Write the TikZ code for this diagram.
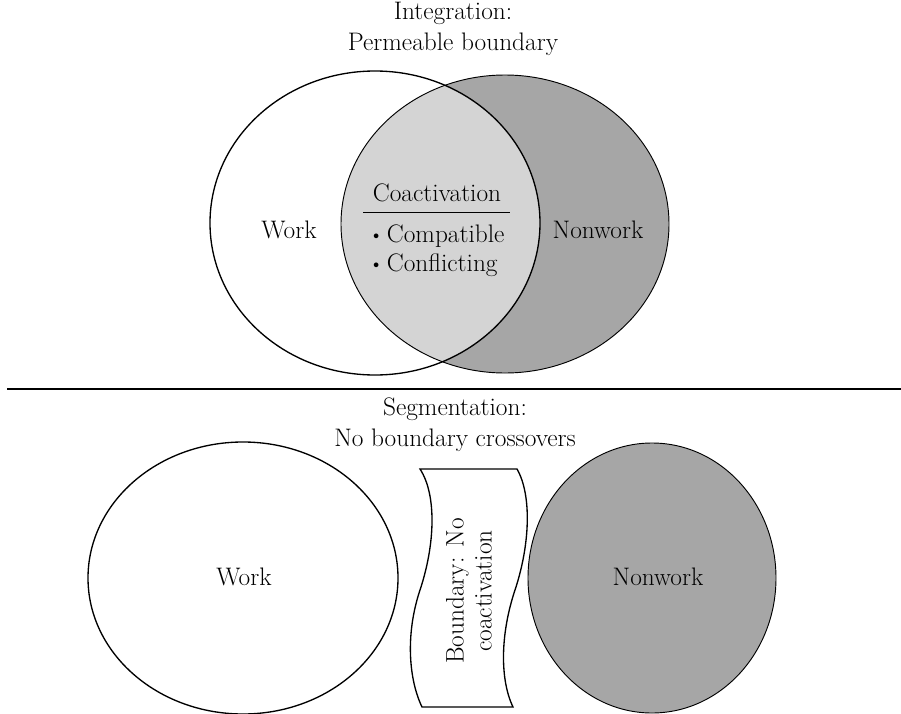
\documentclass[tikz,border=0pt]{standalone}
\usepackage{tikz}
\usetikzlibrary{positioning}
\colorlet{nonworkfill}{black!35}
\colorlet{overlapfill}{black!17}
\newcommand\itembullet{\raisebox{0.08em}{\fontsize{13}{13}\selectfont\textbullet}\,}
\begin{document}
\begin{tikzpicture}[x=0.75pt, y=-0.75pt, line width=1pt,
  every node/.style={font=\fontsize{19}{23}\selectfont, inner sep=0pt}]
\useasboundingbox (0,0) rectangle (901,714);
% integration: overlapping domains
\fill[nonworkfill] (505,224) ellipse [x radius=164, y radius=149];
\begin{scope}
  \clip (375,223) ellipse [x radius=165, y radius=152];
  \fill[overlapfill] (505,224) ellipse [x radius=164, y radius=149];
\end{scope}
\draw (375,223) ellipse [x radius=165, y radius=152];
\draw[line width=0.7pt] (505,224) ellipse [x radius=164, y radius=149];
\node (intTitle) [align=center] at (453,29) {Integration:\\Permeable boundary};
\node (work) at (289,230) {Work};
\node (nonwork) at (598,230) {Nonwork};
\node (coact) at (437,193) {Coactivation};
\node (items) [align=left, font=\fontsize{19}{22}\selectfont, below=16pt of coact] {\itembullet Compatible\\\itembullet Conflicting};
\draw[line width=0.6pt] (363,212) -- (510,212);
% divider
\coordinate (ruleL) at (7,389); \coordinate (ruleR) at (901,389);
\draw[line width=1.3pt] (ruleL) -- (ruleR);
% segmentation: separate domains
\node (segTitle) [align=center] at (455,425) {Segmentation:\\No boundary crossovers};
\draw (243,578) ellipse [x radius=155, y radius=136];
\filldraw[fill=nonworkfill, line width=0.7pt] (652,578) ellipse [x radius=124, y radius=135];
\node (work2) at (244,577) {Work};
\node (nonwork2) at (658,577) {Nonwork};
\draw (420,469) -- (517,469)
  .. controls (532,495) and (530,545) .. (515,590)
  .. controls (500,635) and (500,680) .. (513,707)
  -- (422,707)
  .. controls (409,680) and (405,635) .. (420,590)
  .. controls (435,545) and (437,495) .. (420,469) -- cycle;
\node (boundary) [rotate=90, align=center, font=\fontsize{19}{21}\selectfont] at (469,591) {Boundary: No\\coactivation};
\end{tikzpicture}
\end{document}
